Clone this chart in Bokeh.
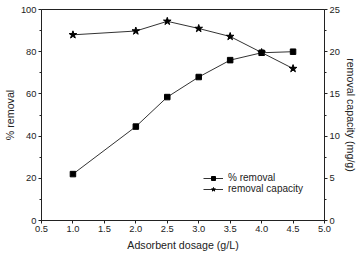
from bokeh.plotting import figure
from bokeh.models import Range1d, LinearAxis, FixedTicker, Legend, LegendItem
from bokeh.embed import file_html
from bokeh.resources import INLINE

dosage = [1.0, 2.0, 2.5, 3.0, 3.5, 4.0, 4.5]
removal_pct = [22.0, 44.5, 58.5, 68.0, 76.0, 79.5, 80.0]
removal_cap = [22.0, 22.45, 23.6, 22.75, 21.8, 19.9, 18.0]

x_ticks = [0.5, 1.0, 1.5, 2.0, 2.5, 3.0, 3.5, 4.0, 4.5, 5.0]
left_ticks = [0, 20, 40, 60, 80, 100]
right_ticks = [0, 5, 10, 15, 20, 25]

FONT = "Liberation Sans"
COL = "#222222"

p = figure(width=359, height=255, output_backend="svg", toolbar_location=None,
           x_range=Range1d(0.5, 5.0), y_range=Range1d(0, 100),
           min_border_left=40, min_border_right=35, min_border_top=9, min_border_bottom=35)
p.extra_y_ranges = {"cap": Range1d(0, 25)}
p.grid.visible = False
p.outline_line_color = COL
p.outline_line_width = 1
p.background_fill_color = "white"
p.border_fill_color = "white"

def style(ax, ticks, minor):
    ax.ticker = FixedTicker(ticks=ticks, minor_ticks=minor)
    ax.axis_line_color = COL
    ax.major_tick_line_color = COL
    ax.minor_tick_line_color = COL
    ax.major_tick_out = 3
    ax.major_tick_in = 0
    ax.minor_tick_out = 2
    ax.minor_tick_in = 0
    ax.major_label_text_font = FONT
    ax.major_label_text_font_size = "7pt"
    ax.major_label_text_color = COL
    ax.axis_label_text_font = FONT
    ax.axis_label_text_font_size = "8pt"
    ax.axis_label_text_font_style = "normal"
    ax.axis_label_text_color = COL
    ax.major_label_standoff = 2
    ax.axis_label_standoff = 2

style(p.xaxis[0], x_ticks, [])
p.xaxis[0].axis_label = "Adsorbent dosage (g/L)"
p.xaxis[0].axis_label_standoff = 4
p.xaxis[0].major_label_overrides = {t: f"{t:.1f}" for t in x_ticks}
style(p.yaxis[0], left_ticks, [10, 30, 50, 70, 90])
p.yaxis[0].axis_label = "% removal"

rax = LinearAxis(y_range_name="cap", axis_label="removal capacity (mg/g)")
style(rax, right_ticks, [2.5, 7.5, 12.5, 17.5, 22.5])
p.add_layout(rax, "right")

l1 = p.line(dosage, removal_pct, line_color="#333333", line_width=1)
m1 = p.scatter(dosage, removal_pct, marker="square", size=5.5, fill_color="black", line_color="black")
l2 = p.line(dosage, removal_cap, y_range_name="cap", line_color="#333333", line_width=1)
m2 = p.scatter(dosage, removal_cap, y_range_name="cap", marker="star", size=8, fill_color="black", line_color="black")

legend = Legend(items=[LegendItem(label="% removal", renderers=[l1, m1]),
                       LegendItem(label="removal capacity", renderers=[l2, m2])],
                location=(160, 24), background_fill_alpha=0, border_line_alpha=0,
                label_text_font=FONT, label_text_font_size="7.5pt", label_text_color=COL,
                glyph_width=20, glyph_height=10, spacing=0, padding=2, margin=0,
                label_standoff=5, label_height=10)
p.add_layout(legend)

open("out.html", "w").write(file_html(p, INLINE))
